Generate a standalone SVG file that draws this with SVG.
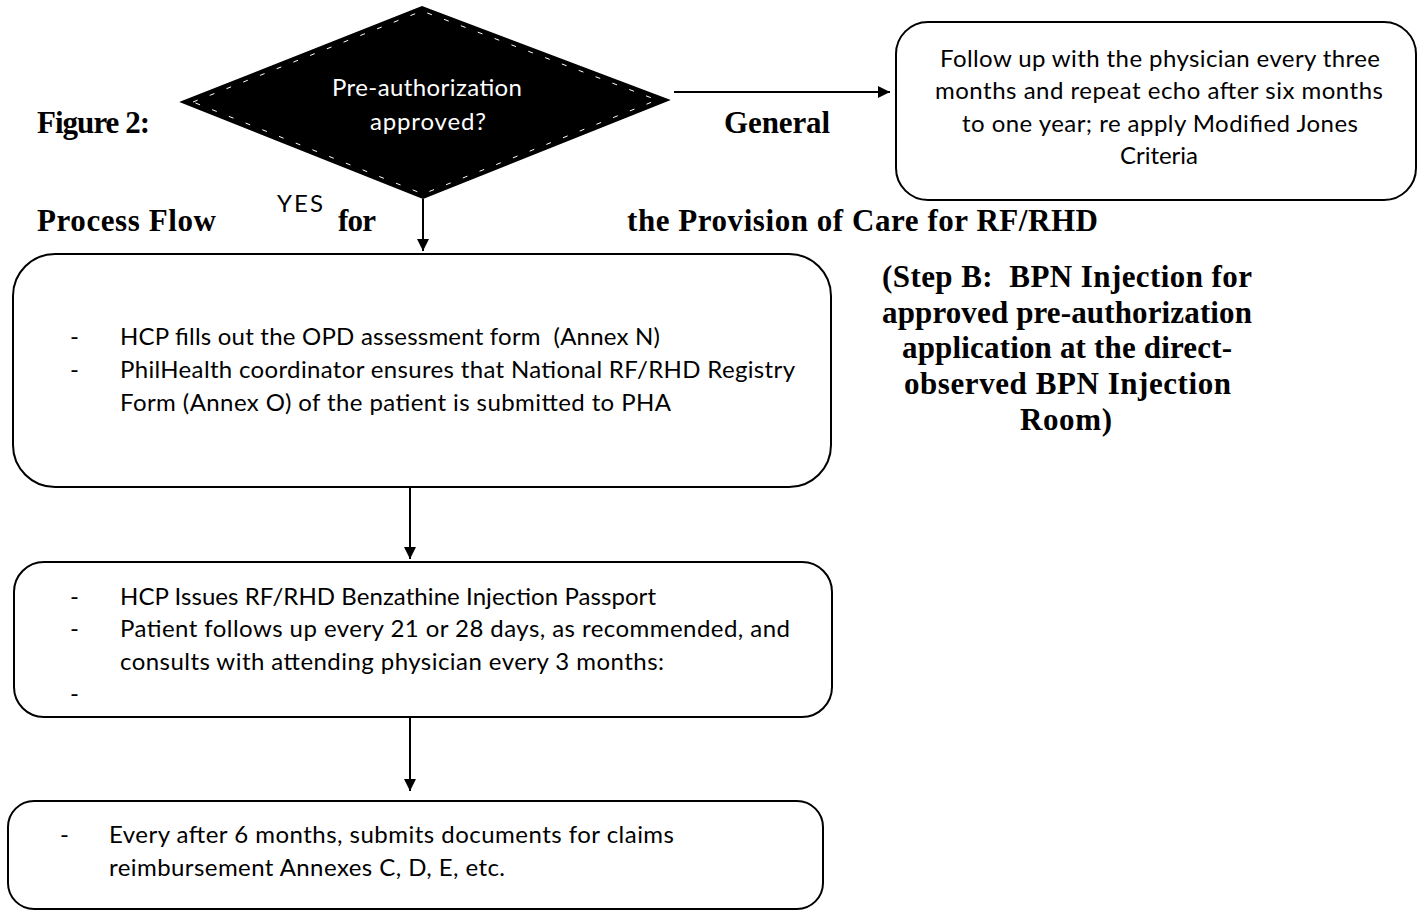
<svg xmlns="http://www.w3.org/2000/svg" width="1418" height="910" viewBox="0 0 1418 910">
<defs>
<style>
.box{fill:#fff;stroke:#000;stroke-width:2}
.t{font-family:Lato,"Liberation Sans",sans-serif;font-size:24px;fill:#000}
.w{font-family:Lato,"Liberation Sans",sans-serif;font-size:24px;fill:#fff}
.s{font-family:"Liberation Serif",serif;font-weight:bold;font-size:31px;fill:#000}
.c{stroke:#000;stroke-width:2;fill:none}
</style>
<marker id="ah" viewBox="0 0 10 10" refX="10" refY="5" markerWidth="14" markerHeight="12" markerUnits="userSpaceOnUse" orient="auto"><path d="M0,0 L10,5 L0,10 z" fill="#000"/></marker>
</defs>
<rect width="1418" height="910" fill="#fff"/>
<text class="s" x="37" y="133" textLength="113">Figure 2:</text>
<text class="s" x="724" y="133" textLength="106">General</text>
<text class="s" x="37" y="231" textLength="179">Process Flow</text>
<text class="s" x="338" y="231" textLength="38">for</text>
<text class="s" x="627" y="231" textLength="471">the Provision of Care for RF/RHD</text>
<text class="t" x="277" y="212" textLength="46">YES</text>
<g id="stepb" class="s">
<text x="882" y="287" textLength="370" xml:space="preserve">(Step B:  BPN Injection for</text>
<text x="882" y="323" textLength="370">approved pre-authorization</text>
<text x="902" y="358" textLength="330">application at the direct-</text>
<text x="904" y="394" textLength="327">observed BPN Injection</text>
<text x="1020" y="430" textLength="92">Room)</text>
</g>
<g id="connectors">
<line class="c" x1="674" y1="92" x2="890" y2="92" marker-end="url(#ah)"/>
<line class="c" x1="423" y1="199" x2="423" y2="251" marker-end="url(#ah)"/>
<line class="c" x1="410" y1="488" x2="410" y2="559" marker-end="url(#ah)"/>
<line class="c" x1="410" y1="718" x2="410" y2="791" marker-end="url(#ah)"/>
</g>
<g id="decision">
<polygon points="182,102 422,7 668,100 423,198" fill="#000" stroke="#000" stroke-width="2"/>
<polygon points="193,102 422,11 657,100 423,194" fill="none" stroke="#fff" stroke-width="1" stroke-dasharray="5 13"/>
<text class="w" x="332" y="96" textLength="190">Pre-authorization</text>
<text class="w" x="370" y="130" textLength="116">approved?</text>
</g>
<g id="followup">
<rect class="box" x="896" y="22" width="520" height="178" rx="32"/>
<g class="t">
<text x="940" y="67" textLength="440">Follow up with the physician every three</text>
<text x="935" y="99" textLength="448">months and repeat echo after six months</text>
<text x="962" y="132" textLength="396">to one year; re apply Modified Jones</text>
<text x="1120" y="164" textLength="78">Criteria</text>
</g>
</g>
<g id="box1">
<rect class="box" x="13" y="254" width="818" height="233" rx="42"/>
<g class="t">
<text x="70" y="345">-</text><text x="120" y="345" textLength="540" xml:space="preserve">HCP fills out the OPD assessment form  (Annex N)</text>
<text x="70" y="378">-</text><text x="120" y="378" textLength="675">PhilHealth coordinator ensures that National RF/RHD Registry</text>
<text x="120" y="411" textLength="551">Form (Annex O) of the patient is submitted to PHA</text>
</g>
</g>
<g id="box2">
<rect class="box" x="14" y="562" width="818" height="155" rx="30"/>
<g class="t">
<text x="70" y="605">-</text><text x="120" y="605" textLength="536">HCP Issues RF/RHD Benzathine Injection Passport</text>
<text x="70" y="637">-</text><text x="120" y="637" textLength="670">Patient follows up every 21 or 28 days, as recommended, and</text>
<text x="120" y="670" textLength="544">consults with attending physician every 3 months:</text>
<text x="70" y="702">-</text>
</g>
</g>
<g id="box3">
<rect class="box" x="8" y="801" width="815" height="108" rx="26"/>
<g class="t">
<text x="60" y="843">-</text><text x="109" y="843" textLength="565">Every after 6 months, submits documents for claims</text>
<text x="109" y="876" textLength="396">reimbursement Annexes C, D, E, etc.</text>
</g>
</g>
</svg>
